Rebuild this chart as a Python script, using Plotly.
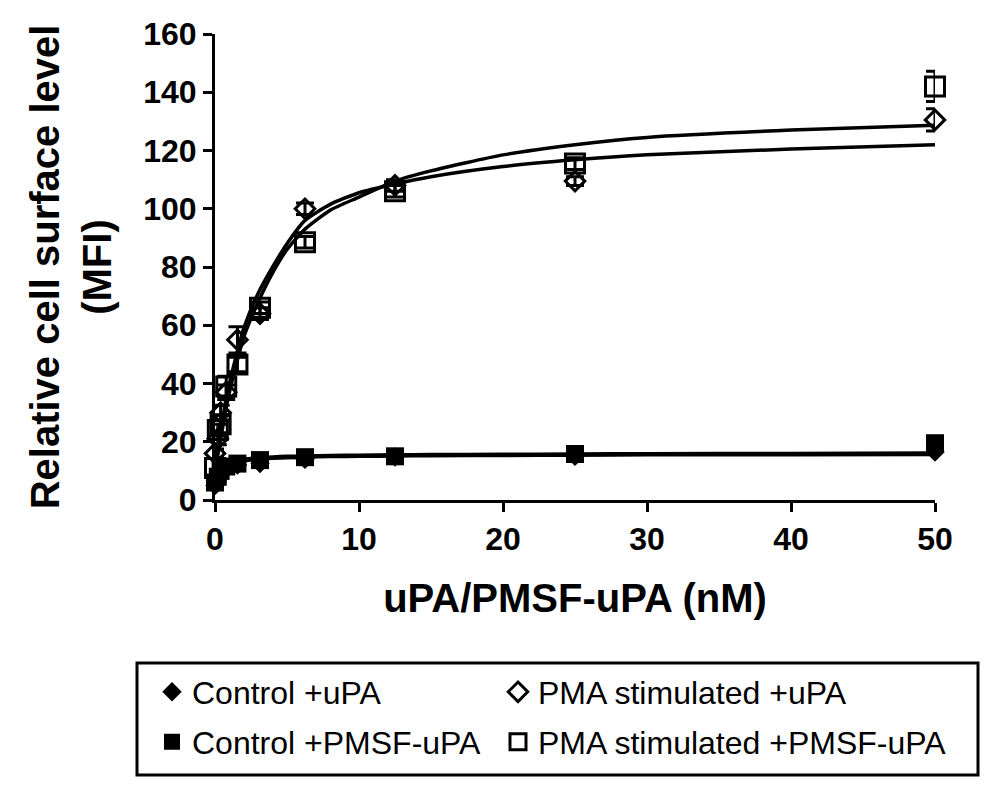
import plotly.graph_objects as go

# ---- data ----
conc = [0, 0.195, 0.39, 0.78, 1.56, 3.125, 6.25, 12.5, 25, 50]

ctrl_upa = [5, 7, 9, 11, 12, 12.5, 14, 14.8, 15, 16.5]
ctrl_pmsf = [6, 8, 10, 11.5, 12.5, 13.7, 14.7, 15, 15.8, 19.5]
pma_upa = [16, 21, 30, 37, 55, 64, 100, 108, 109.5, 130.5]
pma_upa_err = [1.5, 2, 2.5, 2.5, 4.5, 2, 2, 2, 1.5, 3.8]
pma_pmsf = [11, 24, 26, 39, 46.5, 66, 88.5, 106, 115.5, 142]
pma_pmsf_err = [2, 2, 3, 3.5, 2.5, 2, 2, 2, 2, 5.2]

# fitted curves
fit_x = [0, 0.25, 0.5, 0.75, 1, 1.5, 2, 3, 4, 5, 6.25, 8, 10, 12.5, 15, 20, 25, 30, 40, 50]
fit_pma_pmsf = [10, 17, 24, 31, 37, 47, 56, 68, 78, 86, 93, 99.5, 104, 109.5, 113, 118.5, 122, 124.5, 127, 128.7]
fit_pma_upa = [12, 20, 27, 34, 40, 50, 59, 71, 80, 88, 96, 101.5, 105.5, 108.5, 111, 114.5, 116.8, 118.5, 120.5, 122]
fit_ctrl_upa = [4.5, 8, 10, 11.2, 12, 13, 13.5, 14, 14.3, 14.5, 14.7, 14.9, 15, 15.1, 15.2, 15.3, 15.4, 15.5, 15.5, 15.6]
fit_ctrl_pmsf = [5.5, 9, 11, 12, 12.7, 13.5, 14, 14.5, 14.8, 15, 15.1, 15.3, 15.4, 15.5, 15.6, 15.7, 15.8, 15.9, 16, 16.1]

x_ticks = [0, 10, 20, 30, 40, 50]
y_ticks = [0, 20, 40, 60, 80, 100, 120, 140, 160]

names = ["Control +uPA", "PMA stimulated +uPA", "Control +PMSF-uPA", "PMA stimulated +PMSF-uPA"]

FONT = "Liberation Sans, Arial, sans-serif"
fig = go.Figure()

for fy in [fit_ctrl_upa, fit_ctrl_pmsf, fit_pma_upa, fit_pma_pmsf]:
    fig.add_trace(go.Scatter(x=fit_x, y=fy, mode="lines", showlegend=False,
                             line=dict(color="black", width=3.5, shape="spline", smoothing=0.6),
                             hoverinfo="skip", cliponaxis=False))

def err(arr):
    return dict(type="data", array=arr, visible=True, color="black", thickness=3, width=9)

fig.add_trace(go.Scatter(x=conc, y=ctrl_upa, mode="markers", name=names[0], legend="legend",
                         marker=dict(symbol="diamond", size=15, color="black"), cliponaxis=False))
fig.add_trace(go.Scatter(x=conc, y=pma_upa, mode="markers", name=names[1], legend="legend",
                         legendwidth=460, error_y=err(pma_upa_err),
                         marker=dict(symbol="diamond-open", size=15, color="black",
                                     line=dict(width=3, color="black")), cliponaxis=False))
fig.add_trace(go.Scatter(x=conc, y=ctrl_pmsf, mode="markers", name=names[2], legend="legend2",
                         marker=dict(symbol="square", size=18, color="black"), cliponaxis=False))
fig.add_trace(go.Scatter(x=conc, y=pma_pmsf, mode="markers", name=names[3], legend="legend2",
                         legendwidth=460, error_y=err(pma_pmsf_err),
                         marker=dict(symbol="square-open", size=19, color="black",
                                     line=dict(width=3, color="black")), cliponaxis=False))

L, R, T, B = 215, 69, 34, 300
W, H = 1004, 800
pw, ph = W - L - R, H - T - B

def px(xp):
    return (xp - L) / pw

def py(yp):
    return (H - B - yp) / ph

legend_common = dict(orientation="h", xanchor="left", yanchor="middle",
                     font=dict(family=FONT, size=32, color="black"),
                     entrywidth=301, entrywidthmode="pixels",
                     bgcolor="rgba(0,0,0,0)", borderwidth=0, itemsizing="trace")

fig.update_layout(
    width=W, height=H,
    margin=dict(l=L, r=R, t=T, b=B, autoexpand=False),
    paper_bgcolor="white", plot_bgcolor="white",
    font=dict(family=FONT, color="black"),
    xaxis=dict(range=[0, 50], tickvals=x_ticks, ticks="outside", ticklen=9, tickwidth=3,
               tickcolor="black", showline=True, linecolor="black", linewidth=3,
               showgrid=False, zeroline=False, automargin=False,
               tickfont=dict(family=FONT, size=32, weight="bold", color="black"),
               title=dict(text="uPA/PMSF-uPA (nM)", standoff=28,
                          font=dict(family=FONT, size=40, weight="bold", color="black"))),
    yaxis=dict(range=[0, 160], tickvals=y_ticks, ticks="outside", ticklen=9, tickwidth=3,
               tickcolor="black", showline=True, linecolor="black", linewidth=3,
               showgrid=False, zeroline=False, automargin=False,
               tickfont=dict(family=FONT, size=32, weight="bold", color="black"),
               title=dict(text="Relative cell surface level<br>(MFI)", standoff=20,
                          font=dict(family=FONT, size=40, weight="bold", color="black"))),
    legend=dict(x=px(152), y=py(692), **legend_common),
    legend2=dict(x=px(152), y=py(742), **legend_common),
    shapes=[dict(type="rect", xref="paper", yref="paper",
                 x0=px(137), x1=px(978), y0=py(775), y1=py(663),
                 line=dict(color="black", width=3), fillcolor="rgba(0,0,0,0)")],
)

fig.write_html("out.html", config={"displayModeBar": False},
               post_script="document.body.style.margin='0';")
